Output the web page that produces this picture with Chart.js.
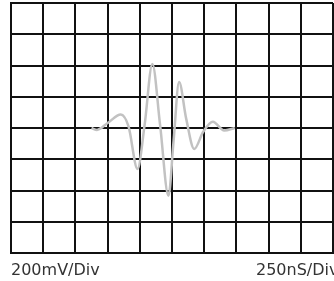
<!DOCTYPE html>
<meta charset="utf-8">
<style>
	body { margin: 0; overflow: hidden; background: #fff; }
	#scope { position: relative; width: 334px; height: 281px; }
	.lbl { position: absolute; top: 262px; font: 16px "DejaVu Sans", sans-serif; line-height: 16px; color: #333; white-space: nowrap; }
</style>
<body>
	<script src="https://cdn.jsdelivr.net/npm/chart.js@4/dist/chart.umd.min.js"></script>

	<div id="scope">
		<canvas id="waveChart" width="334" height="281"></canvas>
		<div class="lbl" id="voltLbl" style="left: 11px;"></div>
		<div class="lbl" id="timeLbl" style="left: 256px;"></div>
	</div>

	<script>
		// scope screen: 10 x 8 divisions
		var voltLabel = "200mV/Div";
		var timeLabel = "250nS/Div";
		// waveform burst, in divisions (time, volts)
		var waveT = [2.5, 2.67, 3.0, 3.41, 3.65, 3.93, 4.15, 4.39, 4.63, 4.89, 5.05, 5.22, 5.44, 5.69, 5.97, 6.27, 6.62, 6.95];
		var waveV = [0, -0.06, 0.16, 0.43, 0.05, -1.31, 0.1, 2.05, 0.1, -2.17, -0.4, 1.47, 0.3, -0.67, -0.12, 0.2, -0.08, 0];

		document.getElementById("voltLbl").textContent = voltLabel;
		document.getElementById("timeLbl").textContent = timeLabel;

		var pts = waveT.map(function(t, i) { return {x: t, y: waveV[i]}; });

		var ctx = document.getElementById("waveChart");
		var gridStyle = {
			color: '#111',
			lineWidth: 2,
			drawTicks: false
		};

		var chart = new Chart(ctx, {
			type: 'line',
			data: {
				datasets: [{
					data: pts,
					borderColor: '#c2c2c2',
					borderWidth: 2.5,
					pointRadius: 0,
					cubicInterpolationMode: 'monotone'
				}]
			},
			options: {
				responsive: false,
				animation: false,
				layout: { padding: { left: 11, right: 1, top: 3, bottom: 28 } },
				plugins: { legend: { display: false }, tooltip: { enabled: false } },
				scales: {
					x: {
						type: 'linear', min: 0, max: 10,
						ticks: { display: false, stepSize: 1 },
						grid: gridStyle,
						border: { color: '#111', width: 2 }
					},
					y: {
						min: -4, max: 4,
						ticks: { display: false, stepSize: 1 },
						grid: gridStyle,
						border: { color: '#111', width: 2 }
					}
				}
			}
		});
	</script>
</body>
